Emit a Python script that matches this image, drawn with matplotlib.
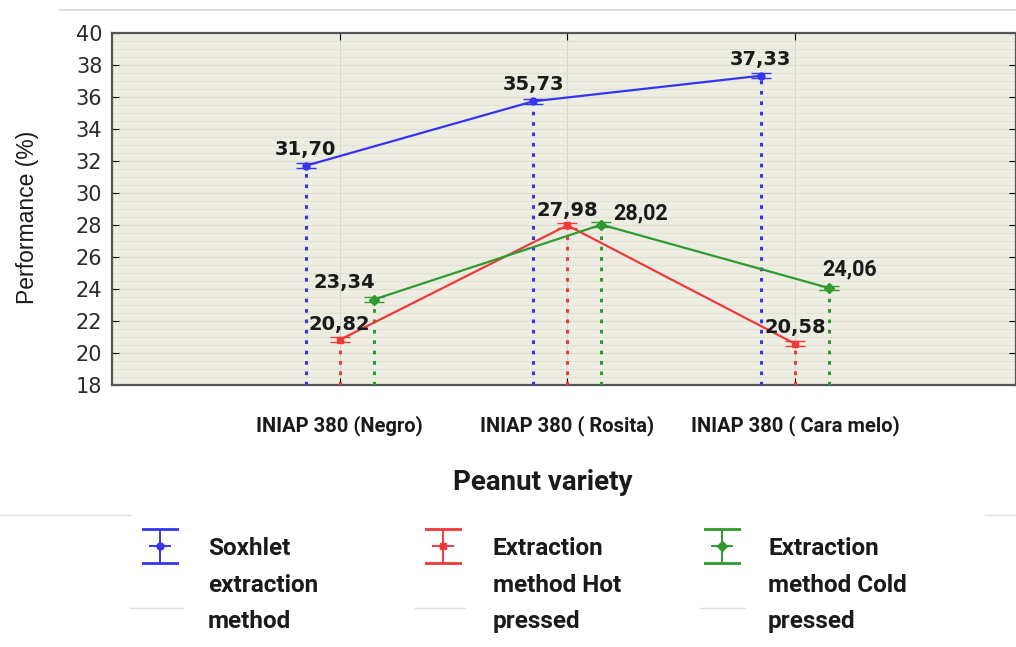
import matplotlib
matplotlib.use("Agg")
import matplotlib.pyplot as plt
from matplotlib.lines import Line2D
from matplotlib.ticker import MultipleLocator

# values
varieties = ["INIAP 380 (Negro)", "INIAP 380 ( Rosita)", "INIAP 380 ( Cara melo)"]
soxhlet = [31.70, 35.73, 37.33]
hot_pressed = [20.82, 27.98, 20.58]
cold_pressed = [23.34, 28.02, 24.06]
err = [0.15, 0.15, 0.15]
series_names = ["Soxhlet\nextraction\nmethod",
                "Extraction\nmethod Hot\npressed",
                "Extraction\nmethod Cold\npressed"]

_BG = "#eeede2"
_BLUE = "#3535f0"
_RED = "#f03a3a"
_GREEN = "#2f9a2f"
_TXT = "#1a1a1a"
_SANS = "Roboto"

fig = plt.figure(figsize=(10.16, 6.47), dpi=100, facecolor="white")
ax = fig.add_axes([112 / 1016, 1 - 385 / 647, (1016 - 112) / 1016, (385 - 33) / 647])
ax.set_facecolor(_BG)

x = list(range(len(varieties)))
offsets = [-0.15, 0.0, 0.15]
styles = [
    (soxhlet, _BLUE, "o"),
    (hot_pressed, _RED, "s"),
    (cold_pressed, _GREEN, "D"),
]

for (vals, color, marker), off in zip(styles, offsets):
    xs = [xi + off for xi in x]
    ax.errorbar(xs, vals, yerr=err, color=color, marker=marker, markersize=5,
                capsize=7, lw=1.6, elinewidth=1.2, zorder=4)
    # dotted drop lines down to the axis
    ax.vlines(xs, 18, vals, colors=color, linestyles=(0, (1.2, 2.2)), lw=2.2, zorder=3)

# value labels
lab = dict(fontsize=14, fontweight="bold", color=_TXT, family="DejaVu Sans", zorder=6)
lab2 = dict(fontsize=15.5, fontweight="bold", color=_TXT, family=_SANS, zorder=6)
for xi, v in zip(x, soxhlet):
    ax.text(xi - 0.15, v + 0.45, f"{v:.2f}".replace(".", ","), ha="center", va="bottom", **lab)
ax.text(x[0], hot_pressed[0] + 0.35, "20,82", ha="center", va="bottom", **lab)
ax.text(x[0] + 0.155, cold_pressed[0] + 0.45, "23,34", ha="right", va="bottom", **lab)
ax.text(x[1], hot_pressed[1] + 0.35, "27,98", ha="center", va="bottom", **lab)
ax.text(x[1] + 0.20, cold_pressed[1] + 0.05, "28,02", ha="left", va="bottom", **lab2)
ax.text(x[2] + 0.12, cold_pressed[2] + 0.45, "24,06", ha="left", va="bottom", **lab2)
ax.text(x[2], hot_pressed[2] + 0.4, "20,58", ha="center", va="bottom", **lab)

ax.set_xlim(-1.0, 2.971)
ax.set_ylim(18, 40)
ax.yaxis.set_major_locator(MultipleLocator(2))
ax.yaxis.set_minor_locator(MultipleLocator(0.5))
ax.set_xticks(x)
ax.set_xticklabels(varieties, family=_SANS, fontweight="bold", fontsize=14.5, color=_TXT)
ax.tick_params(axis="x", which="major", direction="in", length=5, pad=22, top=True)
ax.tick_params(axis="y", which="major", direction="in", length=5, right=True,
               labelsize=15, pad=7)
ax.tick_params(axis="y", which="minor", length=0)
for t in ax.get_yticklabels():
    t.set_family("DejaVu Sans")
    t.set_color("#2a2a2a")

ax.grid(True, which="minor", axis="y", color="#e2e1d6", lw=0.8)
ax.grid(True, which="major", axis="y", color="#dddcd0", lw=0.8)
ax.grid(True, which="major", axis="x", color="#d6d5ca", lw=0.8)
ax.set_axisbelow(True)
for s in ax.spines.values():
    s.set_color("#555555")
    s.set_linewidth(1.6)

ax.set_xlabel("Peanut variety", family=_SANS, fontweight="bold", fontsize=20, color=_TXT)
ax.xaxis.set_label_coords((543 - 112) / 904, (385 - 483) / 352)
ax.xaxis.label.set_va("center")
ax.set_ylabel("Performance (%)", family="Liberation Sans", fontsize=16.5, color=_TXT)
ax.yaxis.set_label_coords((28 - 112) / 904, (385 - 217) / 352)
ax.yaxis.label.set_va("center")

# thin rule at the very top of the image
fig.add_artist(Line2D([60 / 1016, 1.0], [1 - 10 / 647] * 2, color="#d9d9d9", lw=1.2))

# legend drawn by hand: handle + three-line label per series
legend_x = [160, 443, 722]
text_x = [208, 493, 768]
for (vals, color, marker), hx, tx, name in zip(styles, legend_x, text_x, series_names):
    hax = fig.add_axes([(hx - 18) / 1016, 1 - 566 / 647, 36 / 1016, 40 / 647])
    hax.errorbar([0], [0], yerr=[1], color=color, marker=marker, markersize=5,
                 capsize=14, elinewidth=1.4, capthick=2.0)
    hax.plot([-0.55, 0.55], [0, 0], color=color, lw=1.4)
    hax.set_xlim(-1, 1)
    hax.set_ylim(-1.15, 1.15)
    hax.axis("off")
    fig.text(tx / 1016, 1 - 537 / 647, name, ha="left", va="top", family=_SANS,
             fontweight="bold", fontsize=17.5, color=_TXT, linespacing=1.75)

# faint borders of the pasted legend boxes
for x0, x1, y in [(0, 130, 515), (985, 1016, 515), (130, 183, 608),
                  (415, 465, 608), (700, 745, 608)]:
    fig.add_artist(Line2D([x0 / 1016, x1 / 1016], [1 - y / 647] * 2, color="#dddddd", lw=1))

fig.savefig("out.png", dpi=100, facecolor="white")
